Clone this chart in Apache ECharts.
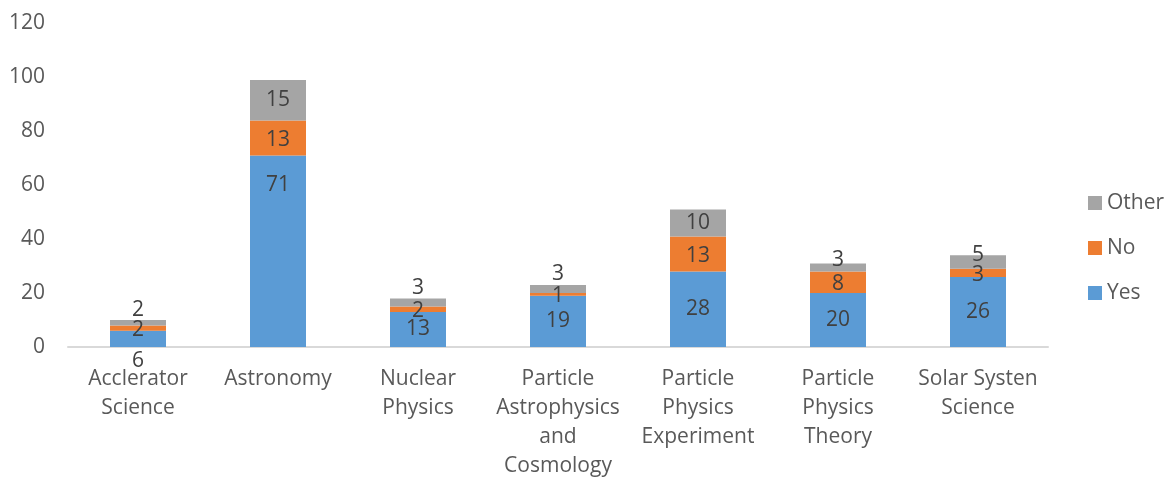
<!DOCTYPE html>
<html>
<head>
<meta charset="utf-8">
<script src="https://cdn.jsdelivr.net/npm/echarts@6/dist/echarts.min.js"></script>
<style>
html,body{margin:0;padding:0;background:#fff;overflow:hidden;width:1164px;height:481px;}
#chart{width:1164px;height:481px;}
</style>
</head>
<body>
<div id="chart"></div>
<script>
const categories = ['Acclerator\nScience', 'Astronomy', 'Nuclear\nPhysics', 'Particle\nAstrophysics\nand\nCosmology', 'Particle\nPhysics\nExperiment', 'Particle\nPhysics\nTheory', 'Solar Systen\nScience'];
const yesValues = [6, 71, 13, 19, 28, 20, 26];
const noValues = [2, 13, 2, 1, 13, 8, 3];
const otherValues = [2, 15, 3, 3, 10, 3, 5];
const yTicks = [0, 20, 40, 60, 80, 100, 120];

const FONT = 'Open Sans';
const FS = 21;
const labelColor = '#404040';

function baseLabel() {
  return { show: true, position: 'inside', color: labelColor, fontFamily: FONT, fontSize: FS };
}
// Excel-like label placement for small segments
function yesData() {
  return yesValues.map((v, i) => {
    const lab = baseLabel();
    if (v < 8) { lab.position = 'bottom'; lab.distance = 4; }
    if (i === 1) { lab.offset = [0, -66]; }
    return { value: v, label: lab };
  });
}
function noData() {
  return noValues.map(v => ({ value: v, label: Object.assign(baseLabel(), { offset: [0, 2] }) }));
}
function otherData() {
  return otherValues.map((v, i) => {
    const lab = baseLabel();
    if (v < 8) {
      if (noValues[i] <= 2) { lab.position = 'top'; lab.distance = 0; }
      else { lab.offset = [0, -7]; }
    }
    return { value: v, label: lab };
  });
}

const chart = echarts.init(document.getElementById('chart'), null, { renderer: 'canvas', width: 1164, height: 481 });
chart.setOption({
  animation: false,
  textStyle: { fontFamily: FONT },
  grid: { left: 68, right: 116, top: 23.5, bottom: 128.5, containLabel: false },
  legend: {
    data: ['Other', 'No', 'Yes'],
    orient: 'vertical',
    left: 1083,
    top: 184,
    itemWidth: 14,
    itemHeight: 14,
    itemGap: 17,
    icon: 'rect',
    textStyle: { color: '#595959', fontSize: FS, fontFamily: FONT, lineHeight: 28 }
  },
  xAxis: {
    type: 'category',
    data: categories,
    axisLine: { show: true, lineStyle: { color: '#d9d9d9', width: 2 } },
    axisTick: { show: false },
    axisLabel: { color: '#595959', fontSize: FS, fontFamily: FONT, lineHeight: 29, margin: 18, interval: 0 }
  },
  yAxis: {
    type: 'value',
    min: 0,
    max: yTicks[yTicks.length - 1],
    interval: 20,
    axisLine: { show: false },
    axisTick: { show: false },
    splitLine: { show: false },
    axisLabel: { color: '#595959', fontSize: FS, fontFamily: FONT, margin: 23 }
  },
  series: [
    { name: 'Yes', type: 'bar', stack: 'total', barWidth: '40%', itemStyle: { color: '#5B9BD5' }, data: yesData() },
    { name: 'No', type: 'bar', stack: 'total', barWidth: '40%', itemStyle: { color: '#ED7D31' }, data: noData() },
    { name: 'Other', type: 'bar', stack: 'total', barWidth: '40%', itemStyle: { color: '#A5A5A5' }, data: otherData() }
  ]
});
</script>
</body>
</html>
